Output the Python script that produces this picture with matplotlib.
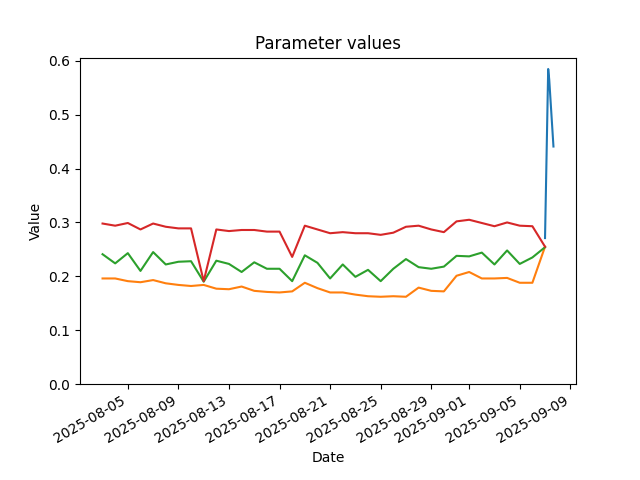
import matplotlib
matplotlib.use("Agg")
import matplotlib.pyplot as plt
import pandas as pd

# daily parameter values, 2025-08-03 .. 2025-09-07
dates = pd.date_range("2025-08-03", "2025-09-07", freq="D")

param_b = [0.196, 0.196, 0.191, 0.189, 0.193, 0.187, 0.184, 0.182, 0.184, 0.177,
           0.176, 0.181, 0.173, 0.171, 0.170, 0.172, 0.188, 0.178, 0.170, 0.170,
           0.166, 0.163, 0.162, 0.163, 0.162, 0.179, 0.173, 0.172, 0.201, 0.208,
           0.196, 0.196, 0.197, 0.188, 0.188, 0.255]
param_c = [0.241, 0.224, 0.243, 0.210, 0.245, 0.222, 0.227, 0.228, 0.190, 0.229,
           0.223, 0.208, 0.226, 0.214, 0.214, 0.191, 0.239, 0.225, 0.196, 0.222,
           0.199, 0.212, 0.191, 0.214, 0.232, 0.217, 0.214, 0.218, 0.238, 0.237,
           0.244, 0.222, 0.248, 0.223, 0.235, 0.254]
param_d = [0.298, 0.294, 0.299, 0.287, 0.298, 0.292, 0.289, 0.289, 0.191, 0.287,
           0.284, 0.286, 0.286, 0.283, 0.283, 0.236, 0.294, 0.287, 0.280, 0.282,
           0.280, 0.280, 0.277, 0.281, 0.292, 0.294, 0.287, 0.282, 0.302, 0.305,
           0.299, 0.293, 0.300, 0.294, 0.293, 0.255]

# intraday values on the last day
recent_times = pd.to_datetime(["2025-09-07 00:00", "2025-09-07 06:00",
                               "2025-09-07 08:00", "2025-09-07 16:00"])
param_a = [0.271, 0.585, 0.565, 0.441]

fig, ax = plt.subplots(figsize=(6.4, 4.8), dpi=100)
ax.plot(recent_times, param_a, color="C0")
ax.plot(dates, param_b, color="C1")
ax.plot(dates, param_c, color="C2")
ax.plot(dates, param_d, color="C3")

ax.set_ylim(bottom=0)
ax.set_title("Parameter values")
ax.set_xlabel("Date")
ax.set_ylabel("Value")
fig.autofmt_xdate()

fig.savefig("out.png", dpi=100)
